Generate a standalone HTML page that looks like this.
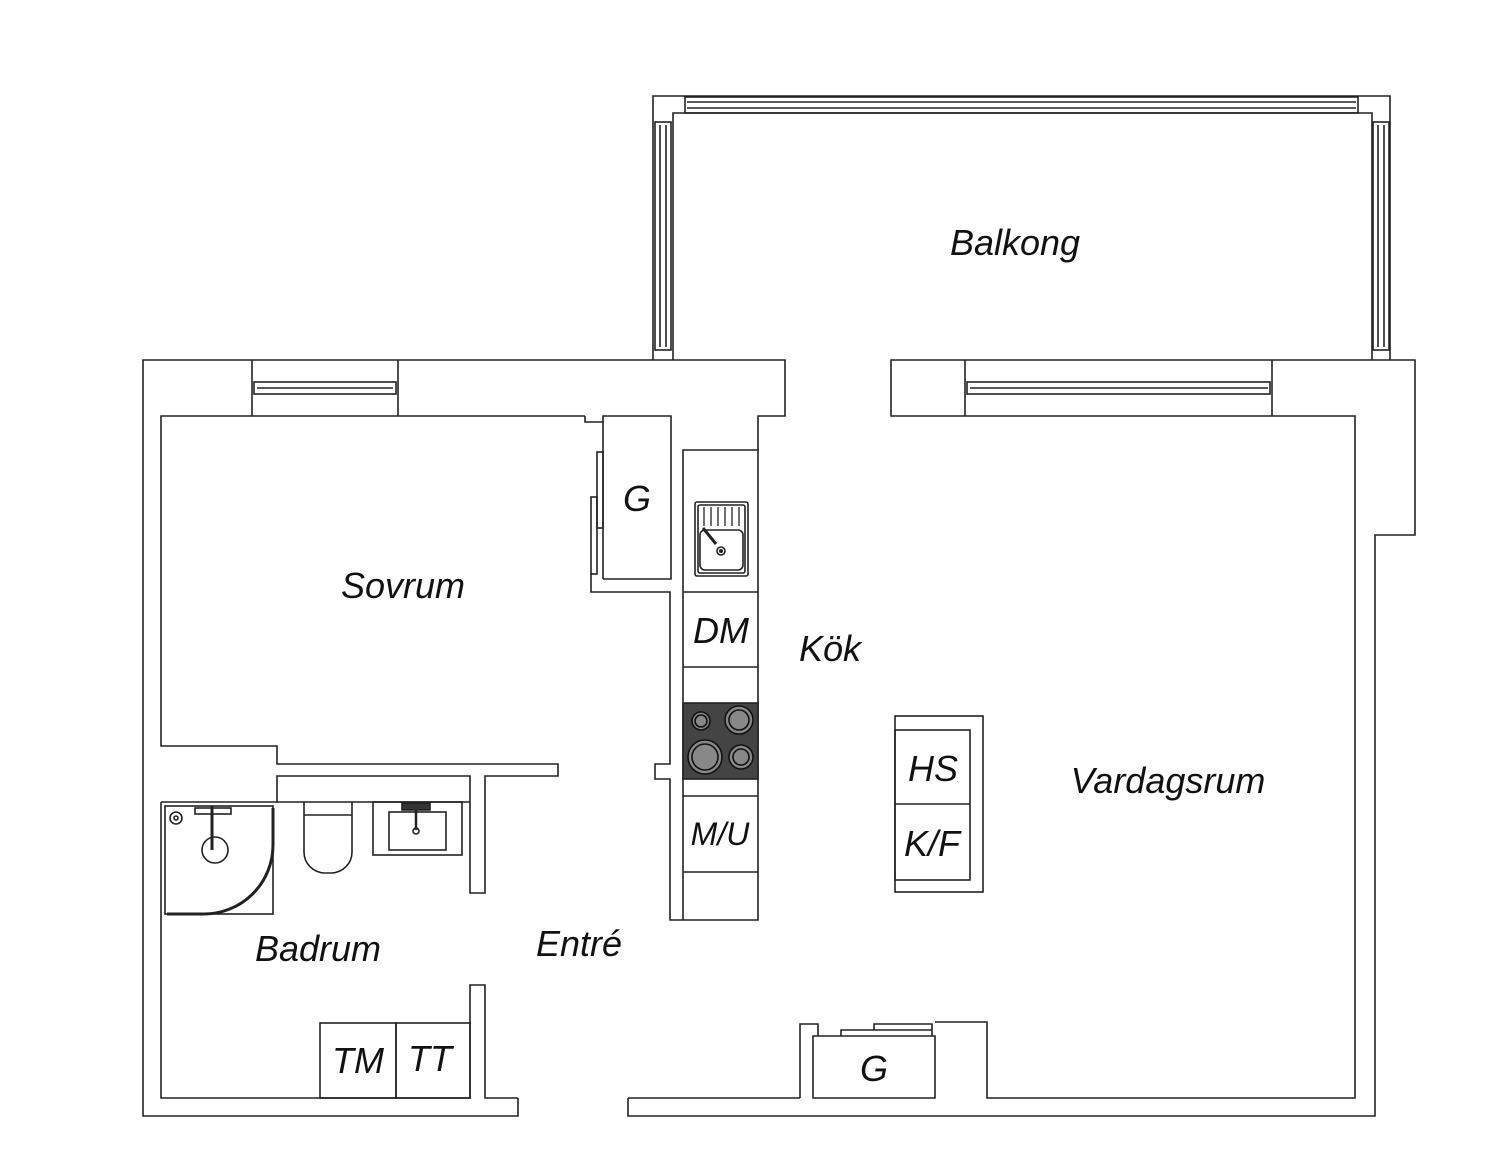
<!DOCTYPE html>
<html><head><meta charset="utf-8"><style>
html,body{margin:0;padding:0;background:#fff;}
svg{display:block;}
text{font-family:"Liberation Sans",sans-serif;font-style:italic;fill:#111;}
</style></head><body>
<svg width="1500" height="1166" viewBox="0 0 1500 1166" xmlns="http://www.w3.org/2000/svg">
<g fill="none" stroke="#222" stroke-width="1.6">
<!-- balcony -->
<path d="M653,360 V96 H1390 V360"/>
<path d="M673,360 V113 H1372 V360"/>
<rect x="685" y="97" width="673" height="16"/>
<line x1="687" y1="102" x2="1356" y2="102"/><line x1="687" y1="108" x2="1356" y2="108"/>
<rect x="655" y="122" width="16" height="228"/>
<line x1="660" y1="125" x2="660" y2="347"/><line x1="666" y1="125" x2="666" y2="347"/>
<rect x="1373" y="122" width="16" height="228"/>
<line x1="1378" y1="125" x2="1378" y2="347"/><line x1="1384" y1="125" x2="1384" y2="347"/>

<!-- outer wall -->
<path d="M518,1098 V1116 H143 V360 H785 V416 H758 V450"/>
<path d="M628,1098 V1116 H1375 V535 H1415 V360 H891 V416 H1355 V1098 H987 V1022 H935"/>
<line x1="965" y1="360" x2="965" y2="416"/><line x1="1272" y1="360" x2="1272" y2="416"/>
<rect x="967" y="382" width="303" height="12"/><line x1="970" y1="388" x2="1268" y2="388"/>
<line x1="252" y1="360" x2="252" y2="416"/><line x1="398" y1="360" x2="398" y2="416"/>
<rect x="254" y="382" width="142" height="12"/><line x1="257" y1="388" x2="393" y2="388"/>

<!-- sovrum inner -->
<path d="M585,416 H161 V746 H277 V764 H558 V776 H485 V893 H470 V776 H277 V802"/>
<path d="M585,416 V422 H603 V416 H671 V579 H603"/>
<line x1="603" y1="422" x2="603" y2="579"/>
<rect x="597" y="452" width="6" height="76"/>
<rect x="591" y="497" width="6" height="77"/>
<path d="M591,574 V592 H670 V764 H655 V779 H670 V920 H758 V450 H683 V920"/>

<!-- bathroom -->
<path d="M161,802 H470 M161,802 V1098 H470 V985 H485 V1098 H518"/>
<rect x="320" y="1023" width="76" height="75"/><rect x="396" y="1023" width="74" height="75"/>
<line x1="628" y1="1098" x2="800" y2="1098"/>
<path d="M800,1098 V1024 H818 V1036 M813,1098 V1036 H935 V1098 Z"/>
<path d="M841,1036 V1030 H932 V1036 M874,1030 V1024 H932 V1030"/>

<!-- shower -->
<rect x="165" y="806" width="108" height="108"/>
<path d="M273,808 V845 A69,69 0 0 1 204,914 H167" stroke-width="3"/>
<circle cx="176" cy="818" r="6"/><circle cx="176" cy="818" r="2"/>
<circle cx="215" cy="850" r="13"/>
<rect x="195" y="808" width="36" height="6"/><line x1="212" y1="806" x2="212" y2="850" stroke-width="3"/>
<!-- toilet -->
<path d="M304,802 V852 A21,21 0 0 0 325,873 H331 A21,21 0 0 0 352,852 V802"/>
<line x1="304" y1="815" x2="352" y2="815"/>
<!-- sink -->
<rect x="373" y="802" width="89" height="53"/>
<rect x="389" y="812" width="57" height="38"/>
<line x1="416" y1="805" x2="416" y2="830" stroke-width="2.5"/><circle cx="416" cy="831" r="3"/>
<rect x="402" y="803" width="28" height="7" fill="#333"/>

<!-- kitchen counter -->
<line x1="683" y1="592" x2="758" y2="592"/>
<line x1="683" y1="667" x2="758" y2="667"/>
<rect x="683" y="703" width="75" height="76" fill="#444"/>
<line x1="683" y1="796" x2="758" y2="796"/>
<line x1="683" y1="872" x2="758" y2="872"/>
<rect x="695" y="502" width="53" height="74" rx="2"/>
<rect x="698" y="505" width="47" height="68" rx="2"/>
<rect x="700" y="530" width="43" height="40" rx="5"/>
<g stroke-width="1.3"><line x1="704" y1="507" x2="704" y2="526"/><line x1="711" y1="507" x2="711" y2="526"/><line x1="718" y1="507" x2="718" y2="526"/><line x1="725" y1="507" x2="725" y2="526"/><line x1="732" y1="507" x2="732" y2="526"/><line x1="739" y1="507" x2="739" y2="526"/></g>
<line x1="703" y1="528" x2="716" y2="544" stroke-width="3"/>
<circle cx="721" cy="551" r="4"/><circle cx="721" cy="551" r="1.2" fill="#222"/>
<g fill="#888" stroke="#111">
<circle cx="701" cy="721" r="9"/><circle cx="701" cy="721" r="6"/>
<circle cx="739" cy="720" r="14"/><circle cx="739" cy="720" r="10"/>
<circle cx="705" cy="757" r="17"/><circle cx="705" cy="757" r="13"/>
<circle cx="741" cy="757" r="12"/><circle cx="741" cy="757" r="8"/>
</g>

<!-- island -->
<rect x="895" y="716" width="88" height="176"/>
<rect x="895" y="730" width="75" height="150"/>
<line x1="895" y1="804" x2="970" y2="804"/>
</g>

<g font-size="36">
<text x="403" y="598" text-anchor="middle">Sovrum</text>
<text x="830" y="661" text-anchor="middle">Kök</text>
<text x="1168" y="793" text-anchor="middle">Vardagsrum</text>
<text x="1015" y="255" text-anchor="middle">Balkong</text>
<text x="318" y="961" text-anchor="middle">Badrum</text>
<text x="579" y="956" text-anchor="middle">Entré</text>
<text x="637" y="511" text-anchor="middle">G</text>
<text x="721" y="643" text-anchor="middle">DM</text>
<text x="933" y="781" text-anchor="middle">HS</text>
<text x="932" y="856" text-anchor="middle">K/F</text>
<text x="720" y="845" text-anchor="middle" font-size="32">M/U</text>
<text x="358" y="1073" text-anchor="middle">TM</text>
<text x="430" y="1071" text-anchor="middle">TT</text>
<text x="874" y="1081" text-anchor="middle">G</text>
</g>
</svg>
</body></html>
